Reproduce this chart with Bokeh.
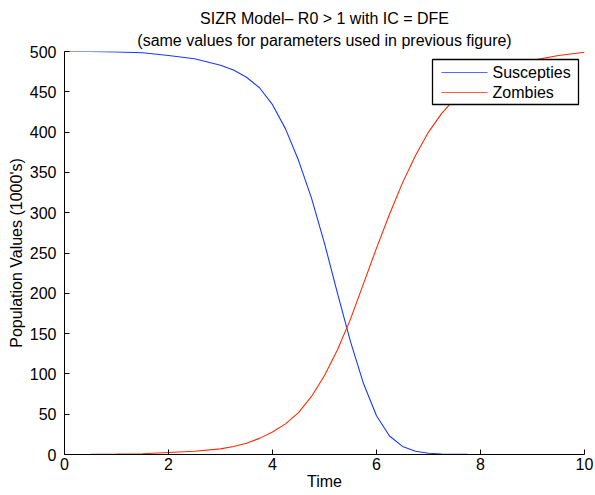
from bokeh.plotting import figure
from bokeh.models import Range1d, FixedTicker, Title, BoxAnnotation, Arrow, Label
from bokeh.embed import file_html
from bokeh.resources import INLINE

time = [0, 0.5, 1, 1.5, 2, 2.5, 3, 3.25, 3.5, 3.75, 4, 4.25, 4.5, 4.75, 5,
        5.25, 5.5, 5.75, 6, 6.25, 6.5, 6.75, 7, 7.25, 7.5, 7.75, 8, 8.5, 9, 9.5, 10]
susceptibles = [500, 500, 499.5, 498.5, 495, 491, 483, 477, 468, 455, 434, 404, 365, 318, 262,
                200, 140, 88, 48, 23, 10, 4, 1.5, 0.7, 0.3, 0.1, 0.05, 0, 0, 0, 0]
zombies = [0, 0.2, 0.5, 1, 2.5, 4, 7, 10, 14, 20, 28, 38, 52, 72, 98,
           130, 168, 212, 256, 298, 337, 371, 400, 423, 441, 456, 467, 481, 489, 495, 499]
x_ticks = [0, 2, 4, 6, 8, 10]
y_ticks = [0, 50, 100, 150, 200, 250, 300, 350, 400, 450, 500]
title_lines = ["SIZR Model\u2013 R0 > 1 with IC = DFE",
               "(same values for parameters used in previous figure)"]
series_names = ["Suscepties", "Zombies"]
series_colors = ["#1838ff", "#ff2a00"]

FONT = "Liberation Sans"
FS = "16px"

p = figure(width=594, height=495, output_backend="svg", toolbar_location=None,
           x_range=Range1d(0, 10), y_range=Range1d(0, 500),
           min_border_left=64, min_border_right=10, min_border_top=51, min_border_bottom=41)

# two centred title lines (second line added first so it sits closest to the plot)
p.add_layout(Title(text=title_lines[1], align="center", text_font=FONT, text_font_size=FS,
                   text_font_style="normal", text_color="black", standoff=6), "above")
p.add_layout(Title(text=title_lines[0], align="center", text_font=FONT, text_font_size=FS,
                   text_font_style="normal", text_color="black", standoff=0), "above")

p.outline_line_color = None
p.xgrid.visible = False
p.ygrid.visible = False

for ax in (p.xaxis[0], p.yaxis[0]):
    ax.major_tick_in = 5
    ax.major_tick_out = 0
    ax.minor_tick_line_color = None
    ax.axis_line_color = "black"
    ax.major_tick_line_color = "black"
    ax.major_label_text_font = FONT
    ax.major_label_text_font_size = FS
    ax.major_label_text_color = "black"
    ax.axis_label_text_font = FONT
    ax.axis_label_text_font_size = FS
    ax.axis_label_text_font_style = "normal"
    ax.axis_label_text_color = "black"

p.xaxis.ticker = FixedTicker(ticks=x_ticks)
p.yaxis.ticker = FixedTicker(ticks=y_ticks)
p.xaxis.axis_label = "Time"
p.yaxis.axis_label = "Population Values (1000's)"
p.xaxis.major_label_standoff = 3
p.xaxis.axis_label_standoff = 0
p.yaxis.major_label_standoff = 8
p.yaxis.axis_label_standoff = 2

p.line(time, susceptibles, line_color=series_colors[0], line_width=1.1)
p.line(time, zombies, line_color=series_colors[1], line_width=1.1)

# legend box drawn in screen units (relative to the plot frame, y upward)
p.add_layout(BoxAnnotation(left=368, right=514, bottom=350, top=395,
                           left_units="screen", right_units="screen",
                           bottom_units="screen", top_units="screen",
                           fill_color="white", fill_alpha=1,
                           line_color="black", line_width=1.3, line_alpha=1))
for i, (name, color) in enumerate(zip(series_names, series_colors)):
    ys = 382 - 20 * i
    p.add_layout(Arrow(x_start=377, y_start=ys, x_end=423, y_end=ys,
                       start_units="screen", end_units="screen", end=None,
                       line_color=color, line_width=1.1, line_alpha=0.75))
    p.add_layout(Label(x=428, y=ys, x_units="screen", y_units="screen", text=name,
                       text_font=FONT, text_font_size=FS, text_color="black",
                       text_baseline="middle", text_align="left"))

open("out.html", "w").write(file_html(p, INLINE))
